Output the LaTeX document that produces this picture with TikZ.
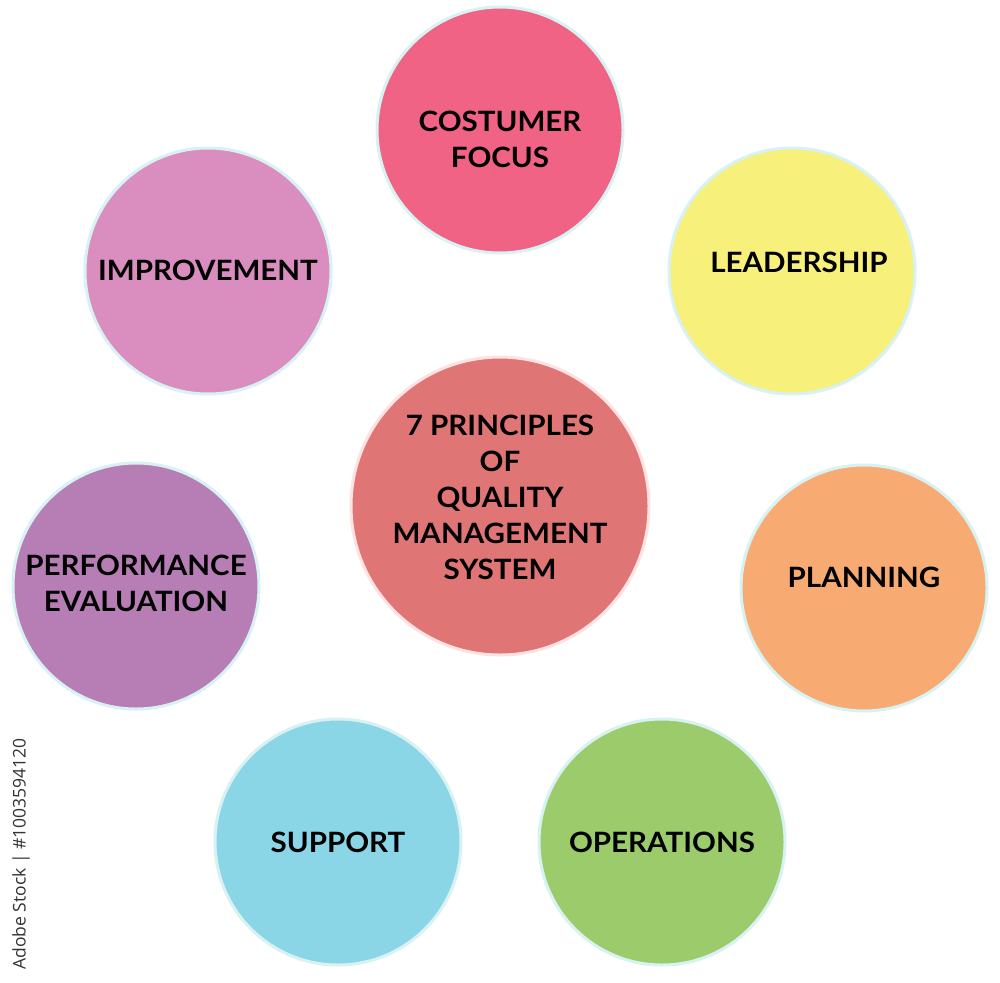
\documentclass[tikz,border=0pt]{standalone}
\usepackage{fontspec}
\setmainfont{Lato}[FakeStretch=1.055]
\newfontfamily\wmfont{Open Sans}
\definecolor{cfocus}{HTML}{F06385}
\definecolor{clead}{HTML}{F7F07B}
\definecolor{cimpr}{HTML}{DA8EC0}
\definecolor{ccenter}{HTML}{E07575}
\definecolor{cperf}{HTML}{B77EB6}
\definecolor{cplan}{HTML}{F7AA72}
\definecolor{csupp}{HTML}{8AD6E6}
\definecolor{coper}{HTML}{9BCB6B}
\definecolor{ringcol}{HTML}{D8F1F3}
\begin{document}
\begin{tikzpicture}[x=1pt,y=-1pt,
  bubble/.style={circle,minimum size=246pt,inner sep=0pt,draw=ringcol,line width=3pt},
  label/.style={font=\fontsize{28}{36}\selectfont\bfseries,align=center,text=black}]
\useasboundingbox (0,0) rectangle (1000,982);
\fill[white] (0,0) rectangle (1000,982);
% circles
\node[bubble,fill=cfocus] (focus) at (500,130) {};
\node[bubble,fill=clead] (lead) at (792,271) {};
\node[bubble,fill=cimpr] (impr) at (208,271) {};
\node[bubble,fill=ccenter,minimum size=298pt,draw=pink!45] (center) at (500,506) {};
\node[bubble,fill=cperf] (perf) at (136,586) {};
\node[bubble,fill=cplan] (plan) at (864,588) {};
\node[bubble,fill=csupp] (supp) at (338,842) {};
\node[bubble,fill=coper] (oper) at (662,842) {};
% labels
\node[label] (tfocus) at (500,139) {COSTUMER\\FOCUS};
\node[label] (tlead) at (799,262) {LEADERSHIP};
\node[label] (timpr) at (208,270) {IMPROVEMENT};
\node[label] (tcenter) at (500,497) {7 PRINCIPLES\\OF\\QUALITY\\MANAGEMENT\\SYSTEM};
\node[label] (tperf) at (136,583) {PERFORMANCE\\EVALUATION};
\node[label] (tplan) at (864,577) {PLANNING};
\node[label] (tsupp) at (338,842) {SUPPORT};
\node[label] (toper) at (662,842) {OPERATIONS};
% watermark
\node[rotate=90,font=\wmfont\fontsize{17.5}{20}\selectfont,text=black!80] (wm) at (21,854) {Adobe Stock | \#1003594120};
\end{tikzpicture}
\end{document}
